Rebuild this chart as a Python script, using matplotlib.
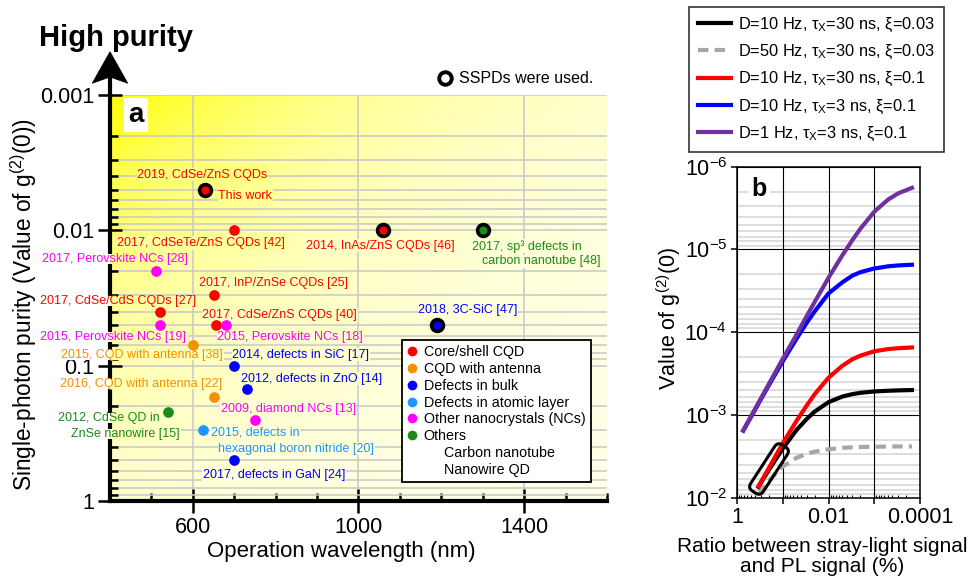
import numpy as np
import matplotlib
matplotlib.use('Agg')
import matplotlib.pyplot as plt
from matplotlib.lines import Line2D
from matplotlib.patches import Polygon, FancyBboxPatch, Rectangle
from matplotlib.transforms import Affine2D, ScaledTranslation
from matplotlib.ticker import FixedLocator, FixedFormatter, NullFormatter, LogLocator

plt.rcParams['font.family'] = ['Liberation Sans', 'DejaVu Sans']
plt.rcParams['mathtext.fontset'] = 'custom'
plt.rcParams['mathtext.rm'] = 'Liberation Sans'
plt.rcParams['mathtext.it'] = 'Liberation Sans:italic'
plt.rcParams['mathtext.bf'] = 'Liberation Sans:bold'

# ---------------- Panel a data ----------------
point_labels = [
    ["2019, CdSe/ZnS CQDs", "This work"],
    ["2017, CdSeTe/ZnS CQDs [42]"],
    ["2014, InAs/ZnS CQDs [46]"],
    ["2017, sp\u00b3 defects in", "carbon nanotube [48]"],
    ["2017, Perovskite NCs [28]"],
    ["2017, InP/ZnSe CQDs [25]"],
    ["2017, CdSe/CdS CQDs [27]"],
    ["2015, Perovskite NCs [19]"],
    ["2017, CdSe/ZnS CQDs [40]"],
    ["2015, Perovskite NCs [18]"],
    ["2015, CQD with antenna [38]"],
    ["2014, defects in SiC [17]"],
    ["2012, defects in ZnO [14]"],
    ["2016, CQD with antenna [22]"],
    ["2012, CdSe QD in", "ZnSe nanowire [15]"],
    ["2009, diamond NCs [13]"],
    ["2015, defects in", "hexagonal boron nitride [20]"],
    ["2017, defects in GaN [24]"],
    ["2018, 3C-SiC [47]"],
]
wavelength_nm = [630, 700, 1060, 1300, 510, 650, 520, 520, 655, 680,
                 600, 700, 730, 650, 540, 750, 625, 700, 1190]
g2_value = [0.005, 0.01, 0.01, 0.01, 0.02, 0.03, 0.04, 0.05, 0.05, 0.05,
            0.07, 0.1, 0.15, 0.17, 0.22, 0.25, 0.3, 0.5, 0.05]
category = ['core', 'core', 'core', 'other', 'nc', 'core', 'core', 'nc', 'core', 'nc',
            'antenna', 'bulk', 'bulk', 'antenna', 'other', 'nc', 'layer', 'bulk', 'bulk']
sspd_used = [True, False, True, True, False, False, False, False, False, False,
             False, False, False, False, False, False, False, False, True]

legend_a_labels = ["Core/shell CQD", "CQD with antenna", "Defects in bulk",
                   "Defects in atomic layer", "Other nanocrystals (NCs)", "Others"]
legend_a_cats = ['core', 'antenna', 'bulk', 'layer', 'nc', 'other']
legend_a_sub = ["Carbon nanotube", "Nanowire QD"]

# ---------------- Panel b data ----------------
ratio_fast = [0.73, 0.5, 0.3, 0.2, 0.1, 0.05, 0.03, 0.02, 0.01, 0.005, 0.003,
              0.002, 0.001, 0.0005, 0.0003, 0.00015]
g_purple = [1.53e-3, 1.05e-3, 6.3e-4, 4.2e-4, 2.1e-4, 1.07e-4, 6.4e-5, 4.3e-5,
            2.2e-5, 1.18e-5, 7.7e-6, 5.6e-6, 3.5e-6, 2.5e-6, 2.1e-6, 1.8e-6]
g_blue = [1.55e-3, 1.07e-3, 6.45e-4, 4.35e-4, 2.25e-4, 1.2e-4, 7.7e-5, 5.6e-5,
          3.4e-5, 2.5e-5, 2.07e-5, 1.88e-5, 1.7e-5, 1.6e-5, 1.56e-5, 1.53e-5]
ratio_slow = [0.34, 0.2, 0.1, 0.05, 0.03, 0.02, 0.01, 0.005, 0.003, 0.002,
              0.001, 0.0005, 0.0003, 0.00015]
g_black = [7.4e-3, 4.6e-3, 2.55e-3, 1.52e-3, 1.12e-3, 9.1e-4, 7.0e-4, 6.0e-4,
           5.6e-4, 5.4e-4, 5.2e-4, 5.1e-4, 5.05e-4, 5.0e-4]
g_gray = [9.0e-3, 6.2e-3, 4.2e-3, 3.3e-3, 2.95e-3, 2.78e-3, 2.6e-3, 2.5e-3,
          2.46e-3, 2.44e-3, 2.42e-3, 2.41e-3, 2.4e-3, 2.4e-3]
g_red = [7.3e-3, 4.35e-3, 2.2e-3, 1.18e-3, 7.7e-4, 5.6e-4, 3.55e-4, 2.55e-4,
         2.12e-4, 1.92e-4, 1.7e-4, 1.6e-4, 1.56e-4, 1.53e-4]
legend_b_labels = ['D=10 Hz, $\\mathregular{\u03c4_X}$=30 ns, \u03be=0.03',
                   'D=50 Hz, $\\mathregular{\u03c4_X}$=30 ns, \u03be=0.03',
                   'D=10 Hz, $\\mathregular{\u03c4_X}$=30 ns, \u03be=0.1',
                   'D=10 Hz, $\\mathregular{\u03c4_X}$=3 ns, \u03be=0.1',
                   'D=1 Hz, $\\mathregular{\u03c4_X}$=3 ns, \u03be=0.1']

# ---------------- styles ----------------
cat_color = {'core': '#ff0000', 'antenna': '#f39200', 'bulk': '#0000ff',
             'layer': '#1e96ff', 'nc': '#ff00ff', 'other': '#1a8c1a'}
# label offsets in pixels (dx, dy up, ha) per text line
label_offsets = [
    [(-3, 15, 'center'), (13, -6, 'left')],
    [(-33, -12.6, 'center')],
    [(-3, -15.3, 'center')],
    [(43.7, -16, 'center'), (59, -31, 'center')],
    [(-41, 11.7, 'center')],
    [(60.4, 12.3, 'center')],
    [(-41.3, 10.4, 'center')],
    [(-46.6, -11.7, 'center')],
    [(64, 10, 'center')],
    [(64.3, -12.3, 'center')],
    [(-51.4, -10.4, 'center')],
    [(66.7, 11, 'center')],
    [(65, 10.7, 'center')],
    [(-72, 13, 'center')],
    [(-59.6, -6, 'center'), (-42.5, -21.7, 'center')],
    [(33.3, 11, 'center')],
    [(51.8, -2.6, 'center'), (93, -18.3, 'center')],
    [(39.8, -15, 'center')],
    [(30.7, 15, 'center')],
]

W, H = 974, 583
fig = plt.figure(figsize=(W / 100, H / 100), dpi=100)

# axes a position (pixels)
ax_l, ax_r, ax_t, ax_b = 110, 607, 95, 501
pos_a = [ax_l / W, 1 - ax_b / H, (ax_r - ax_l) / W, (ax_b - ax_t) / H]


def grad_s(fx, fy):
    d = fx + (1 - fy)
    return 0.06 + 0.94 * np.exp(-1.9 * d)


ax_bg = fig.add_axes(pos_a, zorder=0)
fxg = np.linspace(0, 1, 300)
fyg = np.linspace(1, 0, 300)
FX, FY = np.meshgrid(fxg, fyg)
S = grad_s(FX, FY)
img = np.dstack([np.ones_like(S), np.ones_like(S), 1 - S])
ax_bg.imshow(img, extent=[0, 1, 0, 1], aspect='auto', interpolation='bilinear')
ax_bg.axis('off')

ax = fig.add_axes(pos_a, zorder=1)
ax.patch.set_alpha(0)
ax.set_xscale('linear')
ax.set_yscale('log')
ax.set_xlim(400, 1600)
ax.set_ylim(1, 0.001)
ax.spines['top'].set_visible(False)
ax.spines['right'].set_visible(False)
ax.spines['left'].set_linewidth(3)
ax.spines['bottom'].set_linewidth(3)
ax.xaxis.set_major_locator(FixedLocator([600, 1000, 1400]))
ax.xaxis.set_minor_locator(FixedLocator([500, 700, 800, 900, 1100, 1200, 1300, 1500, 1600]))
ax.yaxis.set_major_locator(FixedLocator([0.001, 0.01, 0.1, 1]))
ax.yaxis.set_major_formatter(FixedFormatter(['0.001', '0.01', '0.1', '1']))
ax.yaxis.set_minor_locator(LogLocator(base=10, subs=np.arange(2, 10), numticks=20))
ax.yaxis.set_minor_formatter(NullFormatter())
ax.tick_params(axis='both', which='major', direction='inout', length=17, width=1.8,
               labelsize=15.5, pad=3)
ax.tick_params(axis='both', which='minor', direction='in', length=6, width=1.8)
ax.set_axisbelow(True)
ax.grid(which='both', axis='y', color='#c8c8c8', lw=1.1)
ax.grid(which='major', axis='x', color='#c8c8c8', lw=1.1)
axw, axh = ax_r - ax_l, ax_b - ax_t
ax.set_xlabel('Operation wavelength (nm)', fontsize=16)
ax.xaxis.set_label_coords((341 - ax_l) / axw, -(541 - ax_b) / axh)
ax.set_ylabel('Single-photon purity (Value of g$^{(2)}$(0))', fontsize=16.3)
ax.yaxis.set_label_coords(-(ax_l - 39) / axw, 1 - (305 - ax_t) / axh)

# points
for wl, g, cat, ss in zip(wavelength_nm, g2_value, category, sspd_used):
    if ss:
        ax.plot(wl, g, 'o', ms=8.5, mfc=cat_color[cat], mec='black', mew=2.6, zorder=4)
    else:
        ax.plot(wl, g, 'o', ms=7.7, mfc=cat_color[cat], mec='none', zorder=4)

# labels
to_frac = ax.transScale + ax.transLimits
crossing = []
for lines, offs, wl, g, cat in zip(point_labels, label_offsets, wavelength_nm, g2_value, category):
    fx0, fy0 = to_frac.transform((wl, g))
    for txt, (dx, dy, ha) in zip(lines, offs):
        fxc = fx0 + dx / axw
        fyc = fy0 + dy / axh
        half_w = len(txt) * 3.3 / axw
        crosses = (ha == 'center' and fxc - half_w < 0.0)
        if crosses:
            bb = None
        else:
            s = grad_s(np.clip(fxc, 0, 1), np.clip(fyc, 0, 1))
            bb = dict(boxstyle='square,pad=0.05', fc=(1, 1, 1 - s), ec='none')
        t = ax.annotate(txt, (wl, g), xytext=(dx, dy), textcoords='offset pixels',
                        ha=ha, va='center', fontsize=9, color=cat_color[cat], zorder=3.5,
                        bbox=bb)
        if crosses:
            crossing.append(t)

# backgrounds for labels crossing the left spine (white outside, gradient inside)
fig.canvas.draw()
renderer = fig.canvas.get_renderer()
inv = ax.transAxes.inverted()
for t in crossing:
    ext = t.get_window_extent(renderer)
    (x0, y0), (x1, y1) = inv.transform([[ext.x0 - 1, ext.y0 + 1], [ext.x1 + 1, ext.y1 - 1]])
    ax.add_artist(Rectangle((x0, y0), -x0, y1 - y0, transform=ax.transAxes,
                            fc='white', ec='none', zorder=3.2, clip_on=False))
    nsl = 12
    edges = np.linspace(0, x1, nsl + 1)
    for a_, b_ in zip(edges[:-1], edges[1:]):
        s = grad_s((a_ + b_) / 2, (y0 + y1) / 2)
        ax.add_artist(Rectangle((a_, y0), b_ - a_ + 0.001, y1 - y0, transform=ax.transAxes,
                                fc=(1, 1, 1 - s), ec='none', zorder=3.2, clip_on=False))

# arrow on left spine
ax.plot([0, 0], [1, 1.06], transform=ax.transAxes, color='black', lw=3,
        clip_on=False, solid_capstyle='butt')
hw = 17.8 / axw
arrow = Polygon([[0, 1 + 43.3 / axh], [-hw, 1 + 11.7 / axh], [0, 1 + 18 / axh],
                 [hw, 1 + 11.7 / axh]], closed=True, transform=ax.transAxes,
                fc='black', ec='black', lw=0.5, clip_on=False)
ax.add_artist(arrow)
fig.text(39 / W, 1 - 46 / H, 'High purity', fontsize=21, fontweight='bold',
         ha='left', va='baseline')

# "a" label
ax.text(0.053, 0.95, 'a', transform=ax.transAxes, fontsize=20, fontweight='bold',
        ha='center', va='center', zorder=5,
        bbox=dict(boxstyle='square,pad=0.15', fc='white', ec='none'))

# SSPD note
ax.plot([0.675], [1.041], 'o', transform=ax.transAxes, clip_on=False,
        mfc='white', mec='black', ms=9, mew=2.8)
ax.text(0.702, 1.041, 'SSPDs were used.', transform=ax.transAxes, fontsize=11.5,
        ha='left', va='center')

# legend a
handles_a = [Line2D([], [], ls='none', marker='o', ms=7, mfc=cat_color[c], mec='none')
             for c in legend_a_cats]
handles_a += [Line2D([], [], ls='none') for _ in legend_a_sub]
labels_a = legend_a_labels + ['     ' + s for s in legend_a_sub]
leg_a = ax.legend(handles_a, labels_a, loc='upper left',
                  bbox_to_anchor=((401.7 - ax_l) / axw, 1 - (340 - ax_t) / axh),
                  borderaxespad=0, fontsize=10.3, handlelength=0.8, handletextpad=0.4,
                  labelspacing=0.2, borderpad=0.35, fancybox=False, framealpha=1,
                  edgecolor='black')
leg_a.get_frame().set_linewidth(1.3)
leg_a.set_zorder(6)

# ---------------- Panel b ----------------
bl, br, bt, bb_ = 737, 920, 166.7, 497.7
ax2 = fig.add_axes([bl / W, 1 - bb_ / H, (br - bl) / W, (bb_ - bt) / H])
ax2.set_xscale('log')
ax2.set_yscale('log')
ax2.plot(ratio_slow, g_gray, color='#a6a6a6', lw=3, dashes=(2.5, 1.5), zorder=3)
ax2.plot(ratio_slow, g_black, color='black', lw=3, zorder=3)
ax2.plot(ratio_slow, g_red, color='#ff0000', lw=3, zorder=3)
ax2.plot(ratio_fast, g_blue, color='#0000ff', lw=3, zorder=3)
ax2.plot(ratio_fast, g_purple, color='#7030a0', lw=3, zorder=3)
ax2.set_xlim(1, 1e-4)
ax2.set_ylim(1e-2, 1e-6)
ax2.xaxis.set_major_locator(FixedLocator([1, 0.1, 0.01, 0.001, 0.0001]))
ax2.xaxis.set_major_formatter(FixedFormatter(['1', '', '0.01', '', '0.0001']))
ax2.xaxis.set_minor_locator(LogLocator(base=10, subs=np.arange(2, 10), numticks=20))
ax2.xaxis.set_minor_formatter(NullFormatter())
ax2.yaxis.set_major_locator(FixedLocator([1e-2, 1e-3, 1e-4, 1e-5, 1e-6]))
ax2.yaxis.set_major_formatter(FixedFormatter(['$\\mathregular{10^{-2}}$', '$\\mathregular{10^{-3}}$',
                                              '$\\mathregular{10^{-4}}$', '$\\mathregular{10^{-5}}$',
                                              '$\\mathregular{10^{-6}}$']))
ax2.yaxis.set_minor_locator(LogLocator(base=10, subs=np.arange(2, 10), numticks=20))
ax2.yaxis.set_minor_formatter(NullFormatter())
ax2.tick_params(axis='both', which='major', direction='out', length=4, width=1.1,
                labelsize=15.5, pad=3)
ax2.tick_params(axis='x', which='minor', direction='in', length=2.5, width=0.8)
ax2.tick_params(axis='y', which='minor', length=0)
ax2.set_axisbelow(True)
ax2.yaxis.set_zorder(0.4)
ax2.xaxis.set_zorder(0.6)
ax2.grid(which='minor', axis='y', color='#d4d4d4', lw=1.1)
ax2.grid(which='major', axis='both', color='black', lw=0.8)
for sp in ax2.spines.values():
    sp.set_linewidth(1.1)
ax2.set_ylabel('Value of g$^{(2)}$(0)', fontsize=15.5)
ax2.yaxis.set_label_coords(-(bl - 683) / (br - bl), 1 - (318.5 - bt) / (bb_ - bt))
ax2.set_xlabel('Ratio between stray-light signal\nand PL signal (%)', fontsize=15,
               linespacing=1.1)
ax2.xaxis.set_label_coords((822 - bl) / (br - bl), -(537 - bb_) / (bb_ - bt))
ax2.text(0.12, 0.933, 'b', transform=ax2.transAxes, fontsize=18, fontweight='bold',
         ha='center', va='center', zorder=5,
         bbox=dict(boxstyle='square,pad=0.15', fc='white', ec='none'))

# highlight box around overlapping start region
Lb, Wb = 55, 15
box = FancyBboxPatch((-Lb / 2, -Wb / 2), Lb, Wb,
                     boxstyle='round,pad=0,rounding_size=5.5', fc='none', ec='black', lw=2.2,
                     transform=Affine2D().rotate_deg(57) +
                     ScaledTranslation((769 - bl) / (br - bl), 1 - (469 - bt) / (bb_ - bt), ax2.transAxes),
                     clip_on=False, zorder=5)
ax2.add_artist(box)

# legend b
handles_b = [Line2D([], [], color='black', lw=3),
             Line2D([], [], color='#a6a6a6', lw=3, dashes=(2.5, 1.5)),
             Line2D([], [], color='#ff0000', lw=3),
             Line2D([], [], color='#0000ff', lw=3),
             Line2D([], [], color='#7030a0', lw=3)]
leg_b = fig.legend(handles_b, legend_b_labels, loc='upper left',
                   bbox_to_anchor=(689 / W, 1 - 7 / H), borderaxespad=0, fontsize=11.8,
                   handlelength=2.0, handletextpad=0.45, labelspacing=0.55, borderpad=0.55,
                   fancybox=False, framealpha=1, edgecolor='#333333')
leg_b.get_frame().set_linewidth(1.2)

fig.savefig('out.png', dpi=100)
